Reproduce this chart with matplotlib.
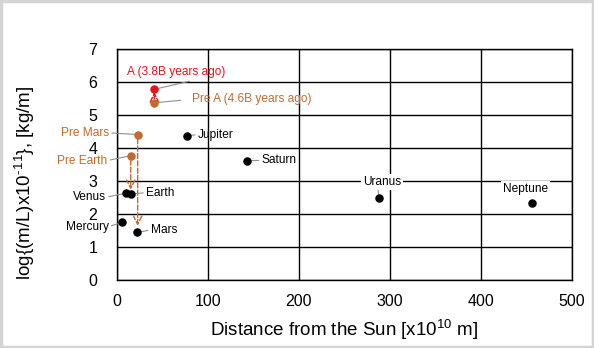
import matplotlib.pyplot as plt
from matplotlib.patches import Rectangle

plt.rcParams['font.family'] = ['Liberation Sans', 'DejaVu Sans']
plt.rcParams['mathtext.default'] = 'regular'

# planets: distance from the sun [x10^10 m] and log{(m/L)x10^-11}
planets = ['Mercury', 'Venus', 'Earth', 'Mars', 'Jupiter', 'Saturn', 'Uranus', 'Neptune']
planet_dist = [6.2, 10.2, 15.7, 22.7, 77.6, 143.5, 287.9, 455.6]
planet_val = [1.75, 2.63, 2.60, 1.44, 4.37, 3.61, 2.48, 2.34]

# early bodies (orange) and body A (red)
pre_names = ['Pre Earth', 'Pre Mars', 'Pre A (4.6B years ago)']
pre_dist = [15.4, 23.0, 41.3]
pre_val = [3.77, 4.41, 5.37]
a_name = 'A (3.8B years ago)'
a_dist = 41.3
a_val = 5.78

orange = '#c46a2e'
red = '#e8141c'
lead = dict(arrowstyle='-', color='#909090', lw=0.8, shrinkA=0, shrinkB=2)

fig = plt.figure(figsize=(5.94, 3.48), dpi=100)
ax = fig.add_axes([0.1965, 0.1954, 0.7665, 0.6636])
fig.patches.append(Rectangle((0.002, 0.003), 0.996, 0.994, transform=fig.transFigure,
                             fill=False, edgecolor='#d4d4d4', lw=2.5))

ax.set_xlim(0, 500)
ax.set_ylim(0, 7)
ax.set_xticks(range(0, 501, 100))
ax.set_yticks(range(0, 8))
ax.grid(True, color='black', lw=1)
ax.set_axisbelow(True)
for s in ax.spines.values():
    s.set_color('black')
    s.set_linewidth(1)
ax.tick_params(length=0, labelsize=11.5)
ax.tick_params(axis='x', pad=10)
ax.tick_params(axis='y', pad=14)

ax.set_xlabel('Distance from the Sun [x10$^{10}$ m]', fontsize=13.5)
ax.set_ylabel('log{(m/L)x10$^{\u2010\u200a11}$}, [kg/m]', fontsize=13.5)
ax.xaxis.set_label_coords(0.5, -0.165)
ax.yaxis.set_label_coords(-0.175, 0.42)

# dashed arrows: early bodies down to the present planets, Pre A up to A
arr_o = dict(arrowstyle='->,head_length=0.6,head_width=0.3', color=orange, lw=1, ls='--',
             shrinkA=3, shrinkB=0)
ax.annotate('', xy=(pre_dist[0], 2.73), xytext=(pre_dist[0], pre_val[0]), arrowprops=arr_o)
ax.annotate('', xy=(pre_dist[1], 1.64), xytext=(pre_dist[1], pre_val[1]), arrowprops=arr_o)
arr_r = dict(arr_o, color=red, shrinkB=2)
ax.annotate('', xy=(a_dist, a_val), xytext=(pre_dist[2], pre_val[2]), arrowprops=arr_r)

ax.scatter(planet_dist, planet_val, s=26, color='black', zorder=5)
ax.scatter(pre_dist, pre_val, s=26, color=orange, zorder=5)
ax.scatter([a_dist], [a_val], s=26, color=red, zorder=5)

fs = 8.6
# left-side labels
left_lbl = {'Mercury': (-8.8, 1.62), 'Venus': (-11.8, 2.51)}
for name, (tx, ty) in left_lbl.items():
    i = planets.index(name)
    ax.annotate(name, xy=(planet_dist[i], planet_val[i]), xytext=(tx, ty), ha='right', va='center',
                fontsize=fs, annotation_clip=False,
                arrowprops=dict(lead, relpos=(1, 0.5)))
for name, (tx, ty) in {'Pre Earth': (-10.3, 3.62), 'Pre Mars': (-8.5, 4.46)}.items():
    i = pre_names.index(name)
    ax.annotate(name, xy=(pre_dist[i], pre_val[i]), xytext=(tx, ty), ha='right', va='center',
                fontsize=fs, color=orange, annotation_clip=False,
                arrowprops=dict(lead, relpos=(1, 0.5)))

# right-side labels
right_lbl = {'Earth': (32.2, 2.65), 'Mars': (37.4, 1.52), 'Jupiter': (89, 4.41),
             'Saturn': (159, 3.63)}
for name, (tx, ty) in right_lbl.items():
    i = planets.index(name)
    ax.annotate(name, xy=(planet_dist[i], planet_val[i]), xytext=(tx, ty), ha='left', va='center',
                fontsize=fs, arrowprops=dict(lead, relpos=(0, 0.5)))
ax.annotate(pre_names[2], xy=(pre_dist[2], pre_val[2]), xytext=(82.4, 5.48), ha='left',
            va='center', fontsize=fs, color=orange,
            arrowprops=dict(lead, relpos=(0, 0.5), shrinkA=6))
ax.annotate(a_name, xy=(a_dist, a_val), xytext=(11.3, 6.3), ha='left', va='center',
            fontsize=fs, color=red,
            arrowprops=dict(lead, relpos=(0.77, 0.0), shrinkA=1))

# labels above the outer planets, masking the grid line
box = dict(facecolor='white', edgecolor='none', pad=1.5)
for name, (tx, ty) in {'Uranus': (291, 2.98), 'Neptune': (448.7, 2.76)}.items():
    i = planets.index(name)
    ax.annotate(name, xy=(planet_dist[i], planet_val[i]), xytext=(tx, ty), ha='center',
                va='center', fontsize=fs, bbox=box, zorder=4,
                arrowprops=dict(lead, relpos=(0.4, 0)) if name == 'Uranus' else None)

fig.savefig('out.png', dpi=100)
